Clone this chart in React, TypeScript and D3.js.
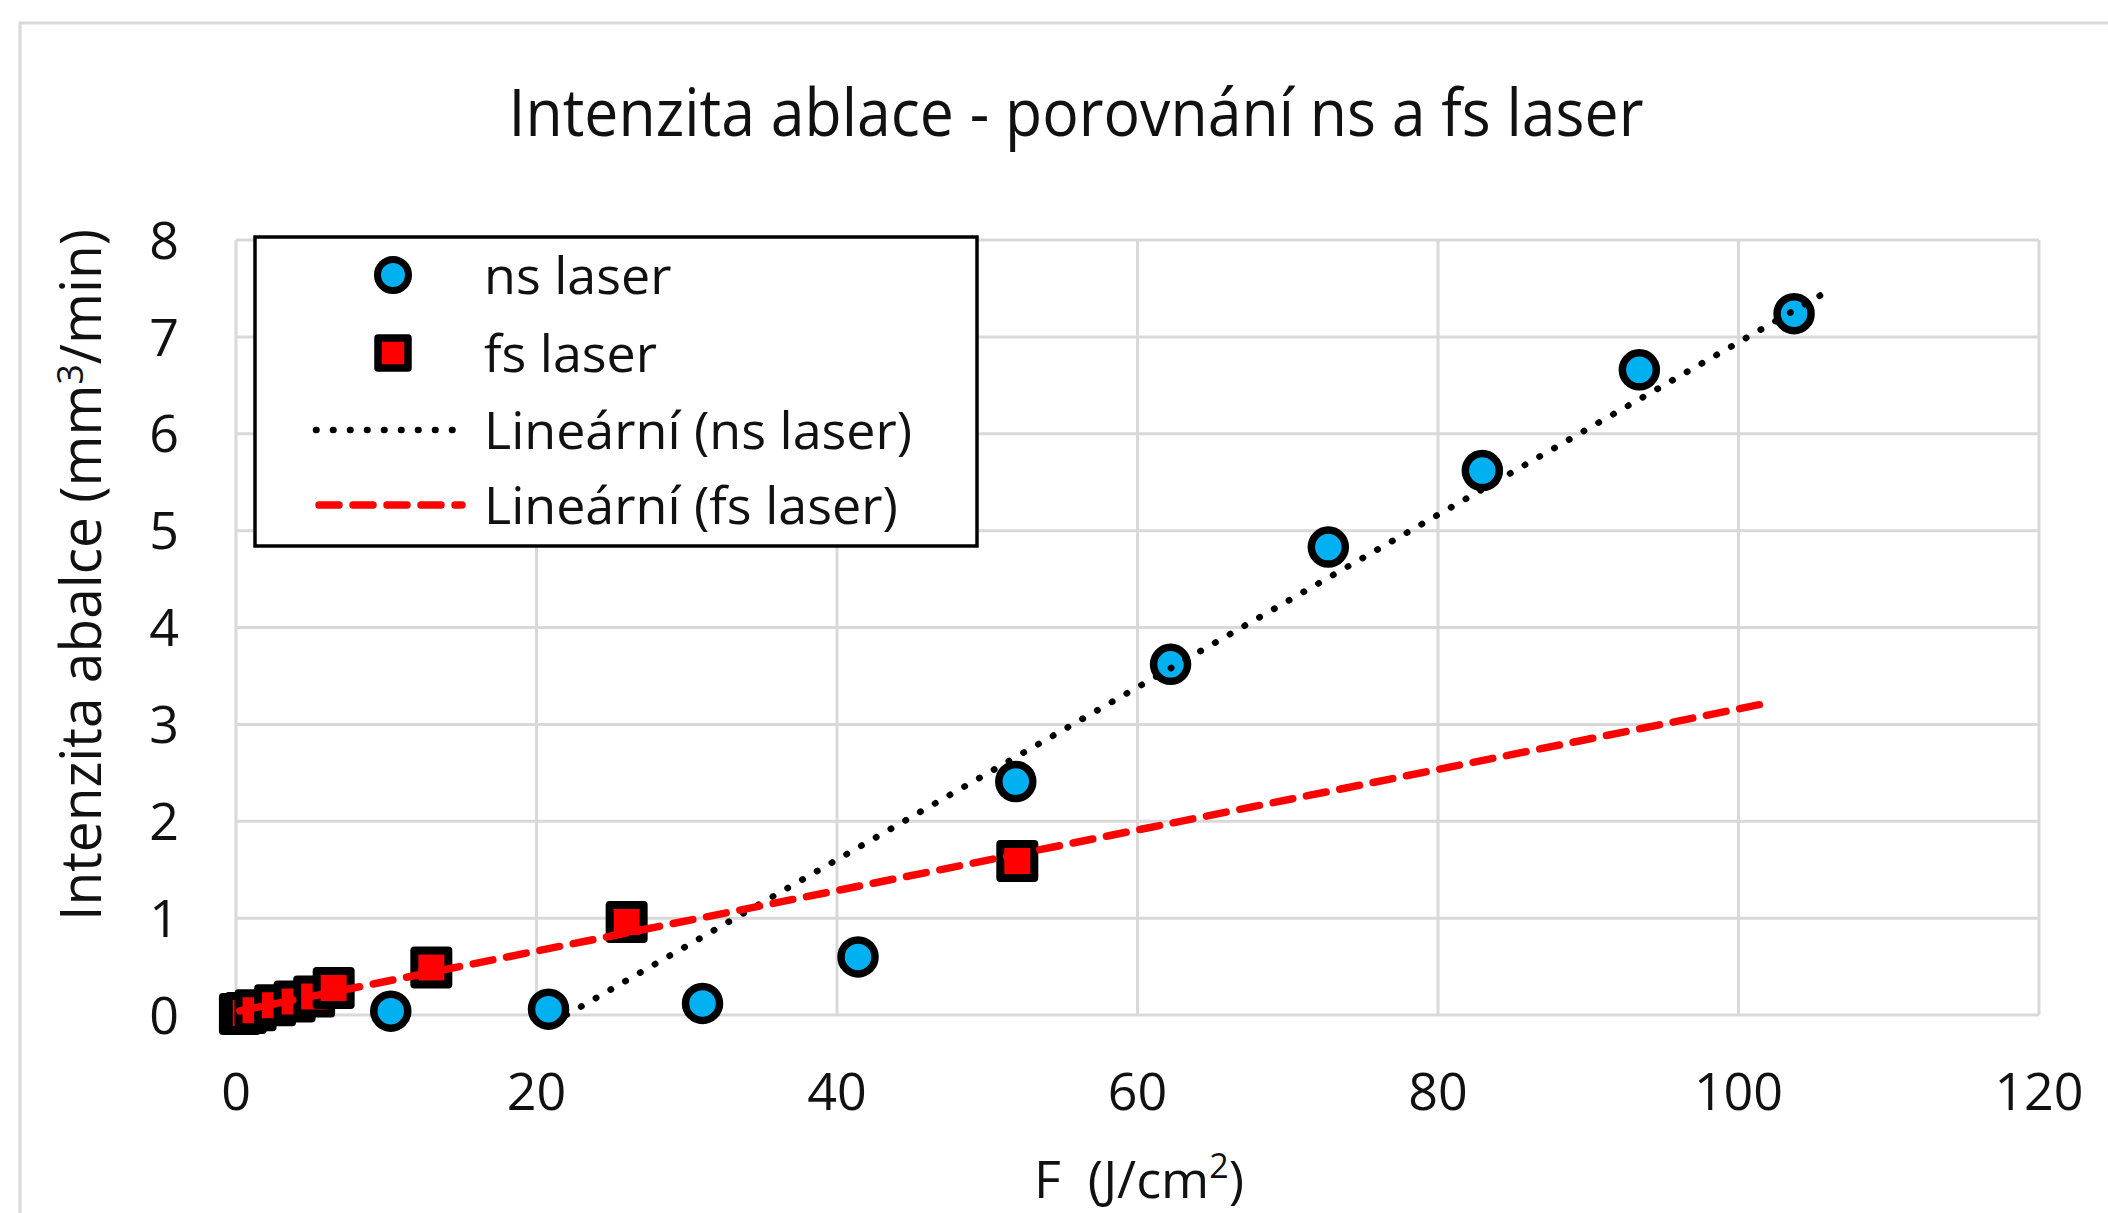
import React from 'react';
import * as d3 from 'd3';

// ns laser measurements (F in J/cm2, ablation rate in mm3/min)
const nsF = [10.3, 20.8, 31.05, 41.4, 51.9, 62.2, 72.7, 82.95, 93.4, 103.7];
const nsRate = [0.04, 0.06, 0.12, 0.6, 2.41, 3.62, 4.83, 5.62, 6.66, 7.24];

// fs laser measurements
const fsF = [0.26, 0.65, 1.3, 2.6, 3.9, 5.2, 6.5, 13, 26, 52];
const fsRate = [0.01, 0.02, 0.05, 0.1, 0.14, 0.19, 0.28, 0.49, 0.96, 1.59];

const xTicks = [0, 20, 40, 60, 80, 100, 120];
const yTicks = [0, 1, 2, 3, 4, 5, 6, 7, 8];

// trendline extents as drawn in the original
const nsTrendEnd = 106.1;
const fsTrendEnd = 102.2;

const FONT = '"Open Sans", sans-serif';
const GRID = '#d9d9d9';

// plain least squares, same thing Excel's linear trendline does
const fit = (xs: number[], ys: number[]) => {
  const mx = d3.mean(xs) as number;
  const my = d3.mean(ys) as number;
  let sxy = 0;
  let sxx = 0;
  xs.forEach((x, i) => {
    sxy += (x - mx) * (ys[i] - my);
    sxx += (x - mx) * (x - mx);
  });
  const slope = sxy / sxx;
  return { slope, intercept: my - slope * mx };
};

export default function App() {
  const width = 2108;
  const height = 1213;
  const margin = { left: 236, right: 2039, top: 240, bottom: 1015 };

  const x = d3.scaleLinear().domain([0, 120]).range([margin.left, margin.right]);
  const y = d3.scaleLinear().domain([0, 8]).range([margin.bottom, margin.top]);

  const ns = fit(nsF, nsRate);
  const fs = fit(fsF, fsRate);

  // ns trend starts where it crosses the x axis (axis min is 0)
  const nsStart = Math.max(d3.min(nsF) as number, -ns.intercept / ns.slope);
  const nsLine: [number, number][] = [nsStart, nsTrendEnd].map((f) => [f, ns.slope * f + ns.intercept]);
  const fsStart = d3.min(fsF) as number;
  const fsLine: [number, number][] = [fsStart, fsTrendEnd].map((f) => [f, fs.slope * f + fs.intercept]);

  const line = d3
    .line<[number, number]>()
    .x((d) => x(d[0]))
    .y((d) => y(d[1]));

  const sq = 34;

  // legend layout
  const lg = { x: 255, y: 237, w: 722, h: 309 };
  const rows = [275, 353, 430, 505];
  const symX = 393;
  const textX = 484;

  return (
    <svg width={width} height={height} style={{ position: 'absolute', left: 0, top: 0, background: '#fff' }}>
      {/* chart area frame, cut off on the right and bottom */}
      <rect x={20} y={23} width={2200} height={1300} fill="#fff" stroke={GRID} strokeWidth={3} />

      <text x={1076} y={136} textAnchor="middle" fontFamily={FONT} fontSize={66} fill="#111"
        textLength={1135} lengthAdjust="spacingAndGlyphs">
        Intenzita ablace - porovnání ns a fs laser
      </text>

      {/* gridlines */}
      {yTicks.map((t) => (
        <line key={'gy' + t} x1={x(0)} x2={x(120)} y1={y(t)} y2={y(t)} stroke={GRID} strokeWidth={3} />
      ))}
      {xTicks.map((t) => (
        <line key={'gx' + t} x1={x(t)} x2={x(t)} y1={y(0)} y2={y(8)} stroke={GRID} strokeWidth={3} />
      ))}

      {/* tick labels */}
      {yTicks.map((t) => (
        <text key={'ty' + t} x={179} y={y(t)} dy="0.36em" textAnchor="end" fontFamily={FONT} fontSize={52} fill="#111">
          {t}
        </text>
      ))}
      {xTicks.map((t) => (
        <text key={'tx' + t} x={x(t)} y={1110} textAnchor="middle" fontFamily={FONT} fontSize={52} fill="#111">
          {t}
        </text>
      ))}

      {/* axis titles */}
      <text transform="translate(101,575) rotate(-90)" textAnchor="middle" fontFamily={FONT} fontSize={56} fill="#111"
        textLength={692} lengthAdjust="spacingAndGlyphs">
        Intenzita abalce (mm<tspan dy={-18} fontSize={36}>3</tspan><tspan dy={18}>/min)</tspan>
      </text>
      <text x={1139} y={1198} textAnchor="middle" fontFamily={FONT} fontSize={52} fill="#111"
        style={{ whiteSpace: 'pre' }}>
        {'F  (J/cm'}<tspan dy={-20} fontSize={34}>2</tspan><tspan dy={20}>)</tspan>
      </text>

      {/* markers */}
      {nsF.map((f, i) => (
        <circle key={'ns' + i} cx={x(f)} cy={y(nsRate[i])} r={17} fill="#00b0f0" stroke="#000" strokeWidth={7.5} />
      ))}
      {fsF.map((f, i) => (
        <rect key={'fs' + i} x={x(f) - sq / 2} y={y(fsRate[i]) - sq / 2} width={sq} height={sq}
          fill="#ff0000" stroke="#000" strokeWidth={8} strokeLinejoin="round" />
      ))}

      {/* trendlines */}
      <path d={line(nsLine) as string} fill="none" stroke="#000" strokeWidth={6.5}
        strokeLinecap="round" strokeDasharray="0.5 16.5" />
      <path d={line(fsLine) as string} fill="none" stroke="#ff0000" strokeWidth={7.5}
        strokeLinecap="round" strokeDasharray="20 14" />

      {/* legend */}
      <rect x={lg.x} y={lg.y} width={lg.w} height={lg.h} fill="#fff" stroke="#000" strokeWidth={3.5} />
      <circle cx={symX} cy={rows[0]} r={15.5} fill="#00b0f0" stroke="#000" strokeWidth={7} />
      <rect x={symX - 15} y={rows[1] - 15} width={30} height={30} fill="#ff0000" stroke="#000" strokeWidth={7.5} strokeLinejoin="round" />
      <line x1={316} x2={456} y1={rows[2]} y2={rows[2]} stroke="#000" strokeWidth={6.5}
        strokeLinecap="round" strokeDasharray="0.5 16.5" />
      <line x1={319} x2={462} y1={rows[3]} y2={rows[3]} stroke="#ff0000" strokeWidth={7.5}
        strokeLinecap="round" strokeDasharray="20 14" />
      {['ns laser', 'fs laser', 'Lineární (ns laser)', 'Lineární (fs laser)'].map((s, i) => (
        <text key={s} x={textX} y={rows[i]} dy="0.36em" fontFamily={FONT} fontSize={52} fill="#111">
          {s}
        </text>
      ))}
    </svg>
  );
}
